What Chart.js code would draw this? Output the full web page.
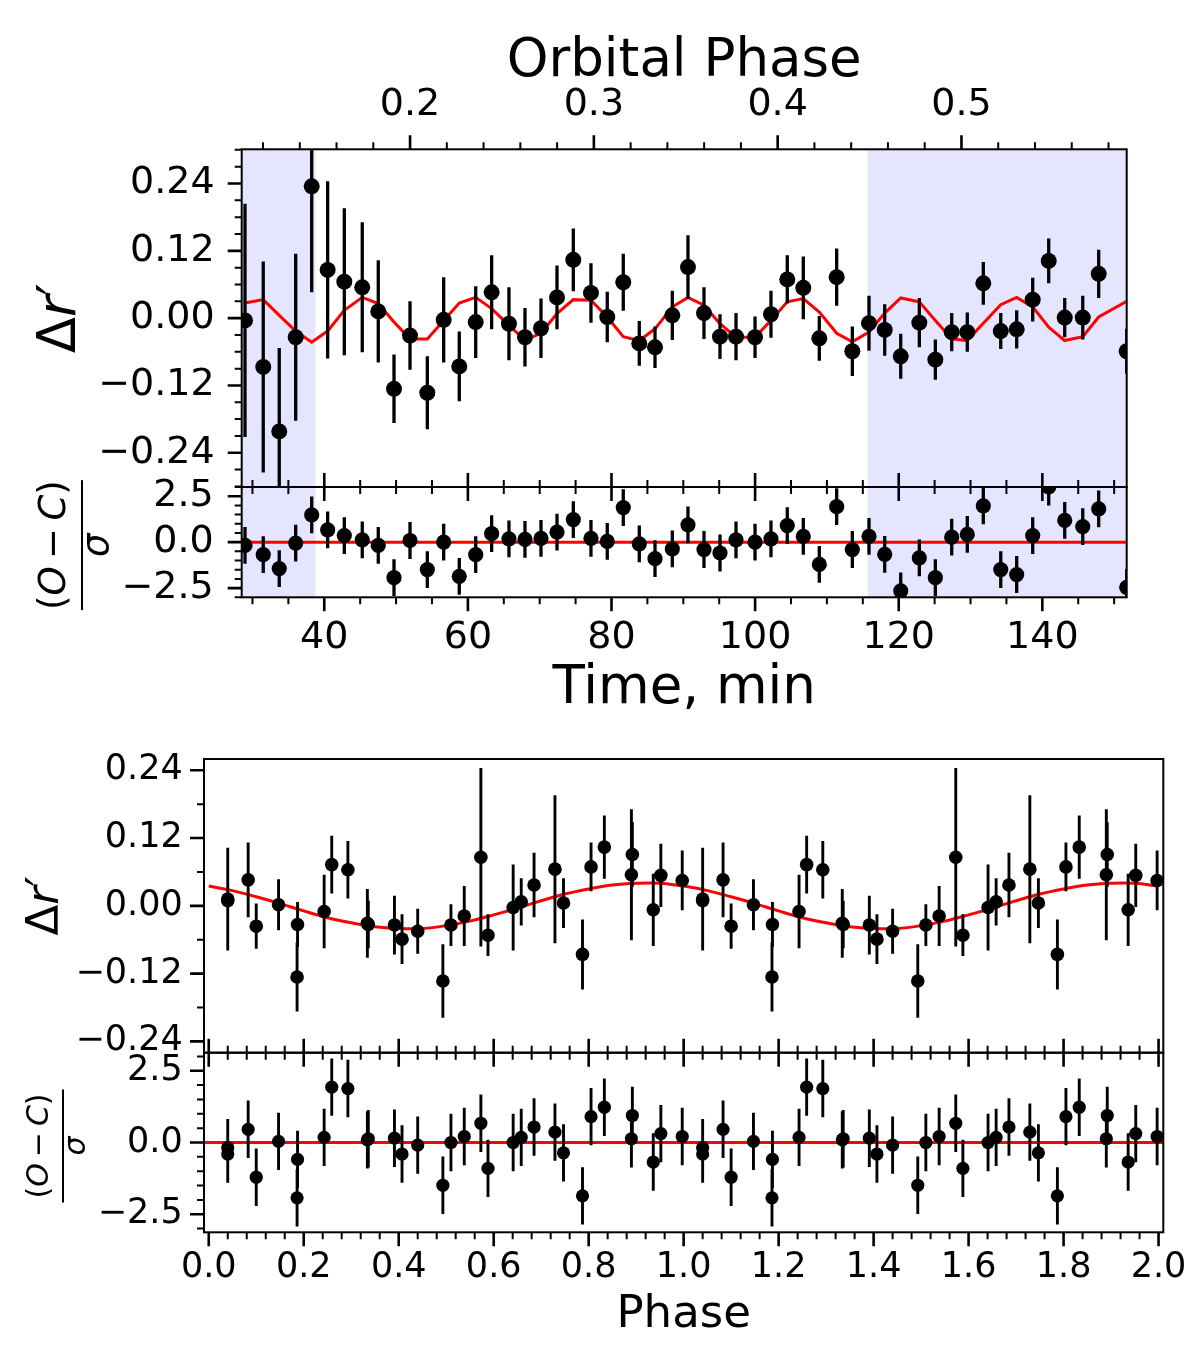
<!DOCTYPE html>
<html>
<head>
<meta charset="utf-8">
<script src="https://cdn.jsdelivr.net/npm/chart.js@4.4.1/dist/chart.umd.min.js"></script>
<style>
  html, body { margin: 0; padding: 0; background: #fff; }
  #page { position: relative; width: 1200px; height: 1353px; overflow: hidden; background: #fff; }
  canvas { position: absolute; left: 0; }
</style>
</head>
<body>
<div id="page">
  <canvas id="lightCurve" width="1200" height="510" style="top:0px"></canvas>
  <canvas id="lightResid" width="1200" height="255" style="top:470px"></canvas>
  <canvas id="foldCurve" width="1200" height="350" style="top:720px"></canvas>
  <canvas id="foldResid" width="1200" height="317" style="top:1036px"></canvas>
</div>
<script>
const FONT = "'DejaVu Sans', sans-serif";
Chart.defaults.font.family = FONT;
Chart.defaults.color = '#000';

// ---- light curve (time series) ----
const timeMin = [28.96, 31.50, 33.73, 36.02, 38.25, 40.47, 42.79, 45.29, 47.52, 49.71,
                 51.94, 54.35, 56.63, 58.80, 61.09, 63.31, 65.72, 67.95, 70.18, 72.41,
                 74.68, 77.14, 79.41, 81.64, 83.87, 86.06, 88.47, 90.65, 92.88, 95.11,
                 97.34, 99.99, 102.21, 104.48, 106.71, 108.94, 111.36, 113.54, 115.86, 118.05,
                 120.28, 122.87, 125.10, 127.38, 129.55, 131.78, 134.21, 136.43, 138.66, 140.89,
                 143.12, 145.63, 147.85, 151.75];
const deltaR = [-0.004, -0.087, -0.202, -0.034, 0.235, 0.086, 0.065, 0.055, 0.012, -0.126,
                -0.031, -0.133, -0.003, -0.086, -0.007, 0.046, -0.010, -0.034, -0.018, 0.037,
                0.104, 0.045, 0.002, 0.064, -0.045, -0.052, 0.005, 0.091, 0.009, -0.033,
                -0.033, -0.034, 0.007, 0.069, 0.054, -0.036, 0.073, -0.059, -0.009, -0.021,
                -0.068, -0.008, -0.074, -0.025, -0.025, 0.062, -0.023, -0.020, 0.033, 0.102,
                0.001, 0.001, 0.079, -0.059];
const deltaRErr = [0.208, 0.188, 0.149, 0.149, 0.189, 0.158, 0.131, 0.116, 0.091, 0.061,
                   0.061, 0.065, 0.076, 0.062, 0.064, 0.066, 0.065, 0.052, 0.053, 0.057,
                   0.056, 0.053, 0.045, 0.051, 0.040, 0.037, 0.044, 0.057, 0.046, 0.040,
                   0.042, 0.037, 0.042, 0.043, 0.056, 0.040, 0.051, 0.044, 0.049, 0.046,
                   0.040, 0.044, 0.036, 0.034, 0.035, 0.038, 0.032, 0.034, 0.039, 0.040,
                   0.035, 0.039, 0.043, 0.040];
const modelTime = [0.027, 0.033, 0.005, -0.023, -0.043, -0.023, 0.014, 0.037, 0.026, -0.007,
                   -0.037, -0.037, -0.004, 0.027, 0.037, 0.017, -0.013, -0.039, -0.027, 0.008,
                   0.033, 0.032, 0.002, -0.033, -0.040, -0.019, 0.020, 0.037, 0.023, -0.010,
                   -0.034, -0.034, -0.004, 0.029, 0.035, 0.011, -0.027, -0.042, -0.025, 0.009,
                   0.036, 0.029, -0.004, -0.037, -0.040, -0.009, 0.024, 0.037, 0.020, -0.016,
                   -0.040, -0.033, 0.002, 0.030];
const residual = [-0.18, -0.68, -1.44, -0.05, 1.48, 0.67, 0.36, 0.13, -0.18, -1.93,
                  0.09, -1.49, 0.00, -1.86, -0.68, 0.46, 0.18, 0.15, 0.21, 0.54,
                  1.23, 0.21, 0.04, 1.88, -0.09, -0.90, -0.36, 0.94, -0.40, -0.59,
                  0.13, 0.00, 0.18, 0.90, 0.31, -1.21, 1.93, -0.40, 0.32, -0.66,
                  -2.65, -0.85, -1.93, 0.27, 0.42, 1.98, -1.49, -1.76, 0.36, 3.00,
                  1.18, 0.85, 1.81, -2.46];
// shaded (excluded) intervals, minutes
const shadeTime = [[28.5, 38.77], [115.67, 151.75]];

// ---- phase folded (unshaded points 6..38) ----
const foldFirst = 5;
const foldPhase = [0.573, 0.729, 0.890, 0.040, 0.186, 0.334, 0.493, 0.641, 0.787, 0.936,
                   0.083, 0.243, 0.391, 0.538, 0.685, 0.833, 0.997, 0.147, 0.293, 0.440,
                   0.588, 0.747, 0.892, 0.040, 0.187, 0.336, 0.510, 0.658, 0.805, 0.952,
                   0.100, 0.259, 0.407];
const modelPhase = [0.00, 0.05, 0.10, 0.15, 0.20, 0.25, 0.30, 0.35, 0.40, 0.45,
                    0.50, 0.55, 0.60, 0.65, 0.70, 0.75, 0.80, 0.85, 0.90, 0.95,
                    1.00, 1.05, 1.10, 1.15, 1.20, 1.25, 1.30, 1.35, 1.40, 1.45,
                    1.50, 1.55, 1.60, 1.65, 1.70, 1.75, 1.80, 1.85, 1.90, 1.95, 2.00];
const modelFold = [0.035, 0.027, 0.016, 0.004, -0.009, -0.021, -0.030, -0.037, -0.040, -0.040,
                   -0.035, -0.027, -0.016, -0.004, 0.009, 0.021, 0.030, 0.037, 0.040, 0.040,
                   0.035, 0.027, 0.016, 0.004, -0.009, -0.021, -0.030, -0.037, -0.040, -0.040,
                   -0.035, -0.027, -0.016, -0.004, 0.009, 0.021, 0.030, 0.037, 0.040, 0.040, 0.035];

// ---- ticks ----
const timeTicks = [40, 60, 80, 100, 120, 140];
const orbPhaseTicks = [0.2, 0.3, 0.4, 0.5];
const dMagTicks = [-0.24, -0.12, 0.00, 0.12, 0.24];
const residTicks = [-2.5, 0.0, 2.5];
const foldTicks = [0.0, 0.2, 0.4, 0.6, 0.8, 1.0, 1.2, 1.4, 1.6, 1.8, 2.0];

function minorSteps(from, to, step, major) {
  const out = [];
  for (let v = from; v <= to + step / 2; v += step) {
    const r = Math.round(v * 1e6) / 1e6;
    if (!major.some(m => Math.abs(m - r) < 1e-6)) out.push(r);
  }
  return out;
}
const timeMinor = minorSteps(30, 150, 5, timeTicks);
const orbPhaseMinor = minorSteps(0.12, 0.58, 0.02, orbPhaseTicks);
const dMagMinorTop = minorSteps(-0.30, 0.30, 0.03, dMagTicks);
const dMagMinorFold = minorSteps(-0.24, 0.24, 0.06, dMagTicks);
const residMinor = minorSteps(-3.0, 3.0, 0.5, residTicks);
const foldMinor = minorSteps(0, 2.0, 0.04, foldTicks);

function fmt(v, dec) {
  return (v < -1e-9 ? '\u2212' : '') + Math.abs(v).toFixed(dec);
}

function axis(o) {
  const cfg = {
    type: 'linear', position: o.position, min: o.min, max: o.max, bounds: 'data',
    grid: { display: false, drawTicks: false },
    border: { display: false },
    ticks: { display: false },
    title: { display: false },
    afterFit: s => {
      if (o.width != null) s.width = o.width;
      if (o.height != null) s.height = o.height;
      // labels may overhang the plot area; don't let them shrink it
      s.paddingTop = 0; s.paddingBottom = 0; s.paddingLeft = 0; s.paddingRight = 0;
    }
  };
  if (o.labels) {
    cfg.ticks = {
      display: true, autoSkip: false, maxRotation: 0, minRotation: 0,
      padding: o.pad, color: '#000', font: { family: FONT, size: o.size },
      callback: v => fmt(v, o.dec)
    };
    cfg.afterBuildTicks = s => { s.ticks = o.labels.map(v => ({ value: v })); };
  }
  if (o.title) {
    cfg.title = { display: true, text: o.title, color: '#000',
                  font: { family: FONT, size: o.titleSize }, padding: o.titlePad };
  }
  return cfg;
}

// tick marks (major + minor, outward) and the frame
function tickPlugin(sides) {
  return {
    id: 'tickMarks',
    afterDraw(chart) {
      const ctx = chart.ctx, a = chart.chartArea;
      ctx.save();
      ctx.strokeStyle = '#000';
      ctx.lineWidth = 2;
      ctx.strokeRect(a.left, a.top, a.right - a.left, a.bottom - a.top);
      sides.forEach(sd => {
        const sc = chart.scales[sd.scale];
        [[sd.minor, 7, 2], [sd.major, 14, 2.6]].forEach(([vals, len, lw]) => {
          ctx.lineWidth = lw;
          ctx.beginPath();
          vals.forEach(v => {
            if (v < sc.min - 1e-9 || v > sc.max + 1e-9) return;
            const p = sc.getPixelForValue(v);
            if (sd.edge === 'left') { ctx.moveTo(a.left, p); ctx.lineTo(a.left - len, p); }
            else if (sd.edge === 'top') { ctx.moveTo(p, a.top); ctx.lineTo(p, a.top - len); }
            else { ctx.moveTo(p, a.bottom); ctx.lineTo(p, a.bottom + len); }
          });
          ctx.stroke();
        });
      });
      ctx.restore();
    }
  };
}

const errorBars = {
  id: 'errorBars',
  afterDatasetsDraw(chart) {
    const ctx = chart.ctx, a = chart.chartArea;
    ctx.save();
    ctx.beginPath();
    ctx.rect(a.left, a.top, a.right - a.left, a.bottom - a.top);
    ctx.clip();
    chart.data.datasets.forEach((ds, i) => {
      if (!ds.errY) return;
      const meta = chart.getDatasetMeta(i);
      const ys = chart.scales[meta.yAxisID];
      ctx.strokeStyle = '#000';
      ctx.lineWidth = ds.errWidth;
      ctx.beginPath();
      meta.data.forEach((pt, j) => {
        const y = ds.data[j].y, e = ds.errY[j];
        ctx.moveTo(pt.x, ys.getPixelForValue(y + e));
        ctx.lineTo(pt.x, ys.getPixelForValue(y - e));
      });
      ctx.stroke();
    });
    ctx.restore();
  }
};

function shadePlugin(ranges) {
  return {
    id: 'shading',
    beforeDatasetsDraw(chart) {
      const ctx = chart.ctx, a = chart.chartArea, xs = chart.scales.x;
      ctx.save();
      ctx.fillStyle = 'rgba(0, 0, 255, 0.1)';
      ranges.forEach(([s, e]) => {
        const x0 = Math.max(a.left, xs.getPixelForValue(s));
        const x1 = Math.min(a.right, xs.getPixelForValue(e));
        ctx.fillRect(x0, a.top, x1 - x0, a.bottom - a.top);
      });
      ctx.restore();
    }
  };
}

// rotated text runs: x = baseline position, y = centre along the text
function rotatedRuns(ctx, x, y, runs, size) {
  ctx.save();
  ctx.translate(x, y);
  ctx.rotate(-Math.PI / 2);
  ctx.textBaseline = 'alphabetic';
  ctx.textAlign = 'left';
  ctx.fillStyle = '#000';
  const f = r => (r.it ? 'italic ' : '') + size + 'px ' + FONT;
  let total = 0;
  const w = runs.map(r => { ctx.font = f(r); const m = ctx.measureText(r.t).width; total += m; return m; });
  let cx = -total / 2;
  runs.forEach((r, i) => { ctx.font = f(r); ctx.fillText(r.t, cx, 0); cx += w[i]; });
  ctx.restore();
}
const deltaRLabel = [{ t: '\u0394' }, { t: 'r', it: true }, { t: '\u2032' }];
const ocLabel = [{ t: '(' }, { t: 'O', it: true }, { t: '\u2009\u2212\u2009' }, { t: 'C', it: true }, { t: ')' }];

function dRLabel(xBase, size) {
  return { id: 'yLabel', afterDraw(chart) {
    const a = chart.chartArea;
    rotatedRuns(chart.ctx, xBase, (a.top + a.bottom) / 2, deltaRLabel, size);
  } };
}
function fracLabel(xNum, xBar, xDen, barLen, size, dy) {
  return { id: 'yLabel', afterDraw(chart) {
    const a = chart.chartArea, ctx = chart.ctx;
    const cy = (a.top + a.bottom) / 2 + dy;
    rotatedRuns(ctx, xNum, cy, ocLabel, size);
    rotatedRuns(ctx, xDen, cy, [{ t: '\u03c3', it: true }], size);
    ctx.save();
    ctx.fillStyle = '#000';
    ctx.fillRect(xBar - 1, cy - barLen / 2, 2, barLen);
    ctx.restore();
  } };
}

const base = {
  responsive: false, maintainAspectRatio: false, animation: false, events: [],
  plugins: { legend: { display: false }, tooltip: { enabled: false } }
};

const tMin = 28.5, tMax = 151.75;

// ---------- panel 1: light curve ----------
new Chart(document.getElementById('lightCurve'), {
  type: 'scatter',
  data: { datasets: [
    { data: timeMin.map((t, i) => ({ x: t, y: deltaR[i] })), errY: deltaRErr, errWidth: 3.3,
      backgroundColor: '#000', borderWidth: 0, pointRadius: 8, clip: 0 },
    { data: timeMin.map((t, i) => ({ x: t, y: modelTime[i] })), showLine: true,
      borderColor: '#ff0000', borderWidth: 3, pointRadius: 0, tension: 0 }
  ] },
  options: Object.assign({}, base, {
    layout: { padding: { left: 0, top: 0, right: 73.3, bottom: 0 } },
    scales: {
      x: axis({ position: 'bottom', min: tMin, max: tMax, height: 23 }),
      x2: axis({ position: 'top', min: 0.1084, max: 0.5899, height: 149.3, labels: orbPhaseTicks,
                 dec: 1, size: 38, pad: 21.5, title: 'Orbital Phase', titleSize: 53,
                 titlePad: { top: 30, bottom: 0 } }),
      y: axis({ position: 'left', min: -0.301, max: 0.301, width: 241.7, labels: dMagTicks,
                dec: 2, size: 38, pad: 27 })
    }
  }),
  plugins: [shadePlugin(shadeTime), errorBars,
    tickPlugin([{ scale: 'y', edge: 'left', major: dMagTicks, minor: dMagMinorTop },
                { scale: 'x', edge: 'bottom', major: timeTicks, minor: timeMinor },
                { scale: 'x2', edge: 'top', major: orbPhaseTicks, minor: orbPhaseMinor }]),
    dRLabel(75, 53)]
});

// ---------- panel 2: light-curve residuals ----------
new Chart(document.getElementById('lightResid'), {
  type: 'scatter',
  data: { datasets: [
    { data: timeMin.map((t, i) => ({ x: t, y: residual[i] })), errY: timeMin.map(() => 1), errWidth: 3.3,
      backgroundColor: '#000', borderWidth: 0, pointRadius: 7.6, clip: 0 },
    { data: [{ x: tMin, y: 0 }, { x: tMax, y: 0 }], showLine: true,
      borderColor: '#ff0000', borderWidth: 3, pointRadius: 0 }
  ] },
  options: Object.assign({}, base, {
    layout: { padding: { left: 0, top: 17, right: 73.3, bottom: 0 } },
    scales: {
      x: axis({ position: 'bottom', min: tMin, max: tMax, height: 127.7, labels: timeTicks,
                dec: 0, size: 38, pad: 18, title: 'Time, min', titleSize: 53,
                titlePad: { top: 0, bottom: 3.5 } }),
      y: axis({ position: 'left', min: -3.0, max: 3.0, width: 241.7, labels: residTicks,
                dec: 1, size: 38, pad: 28 })
    }
  }),
  plugins: [shadePlugin(shadeTime), errorBars,
    tickPlugin([{ scale: 'y', edge: 'left', major: residTicks, minor: residMinor },
                { scale: 'x', edge: 'bottom', major: timeTicks, minor: timeMinor },
                { scale: 'x', edge: 'top', major: timeTicks, minor: timeMinor }]),
    fracLabel(65, 82, 108, 130, 37, 3)]
});

// ---------- panel 3: phase folded ----------
const foldPts = [], foldErr = [], foldRes = [];
[0, 1].forEach(cycle => {
  foldPhase.forEach((ph, i) => {
    const k = foldFirst + i;
    foldPts.push({ x: ph + cycle, y: deltaR[k] });
    foldErr.push(deltaRErr[k]);
    foldRes.push({ x: ph + cycle, y: residual[k] });
  });
});
const phMin = -0.01, phMax = 2.01;

new Chart(document.getElementById('foldCurve'), {
  type: 'scatter',
  data: { datasets: [
    { data: foldPts, errY: foldErr, errWidth: 2.9,
      backgroundColor: '#000', borderWidth: 0, pointRadius: 6.8, clip: 0 },
    { data: modelPhase.map((p, i) => ({ x: p, y: modelFold[i] })), showLine: true,
      borderColor: '#ff0000', borderWidth: 3, pointRadius: 0, tension: 0.4 }
  ] },
  options: Object.assign({}, base, {
    layout: { padding: { left: 0, top: 39, right: 36.7, bottom: 0 } },
    scales: {
      x: axis({ position: 'bottom', min: phMin, max: phMax, height: 17.3 }),
      y: axis({ position: 'left', min: -0.26, max: 0.26, width: 204, labels: dMagTicks,
                dec: 2, size: 35, pad: 21.3 })
    }
  }),
  plugins: [errorBars,
    tickPlugin([{ scale: 'y', edge: 'left', major: dMagTicks, minor: dMagMinorFold },
                { scale: 'x', edge: 'bottom', major: foldTicks, minor: foldMinor }]),
    dRLabel(58, 45)]
});

// ---------- panel 4: folded residuals ----------
new Chart(document.getElementById('foldResid'), {
  type: 'scatter',
  data: { datasets: [
    { data: foldRes, errY: foldRes.map(() => 1), errWidth: 2.9,
      backgroundColor: '#000', borderWidth: 0, pointRadius: 6.6, clip: 0 },
    { data: [{ x: phMin, y: 0 }, { x: phMax, y: 0 }], showLine: true,
      borderColor: '#ff0000', borderWidth: 2.8, pointRadius: 0 }
  ] },
  options: Object.assign({}, base, {
    layout: { padding: { left: 0, top: 16.7, right: 36.7, bottom: 0 } },
    scales: {
      x: axis({ position: 'bottom', min: phMin, max: phMax, height: 120.7, labels: foldTicks,
                dec: 1, size: 35, pad: 14.6, title: 'Phase', titleSize: 45,
                titlePad: { top: 0, bottom: 10.6 } }),
      y: axis({ position: 'left', min: -3.13, max: 3.13, width: 204, labels: residTicks,
                dec: 1, size: 35, pad: 21.3 })
    }
  }),
  plugins: [errorBars,
    tickPlugin([{ scale: 'y', edge: 'left', major: residTicks, minor: residMinor },
                { scale: 'x', edge: 'bottom', major: foldTicks, minor: foldMinor },
                { scale: 'x', edge: 'top', major: foldTicks, minor: foldMinor }]),
    fracLabel(48, 63, 85, 113, 30, 3.5)]
});
</script>
</body>
</html>
